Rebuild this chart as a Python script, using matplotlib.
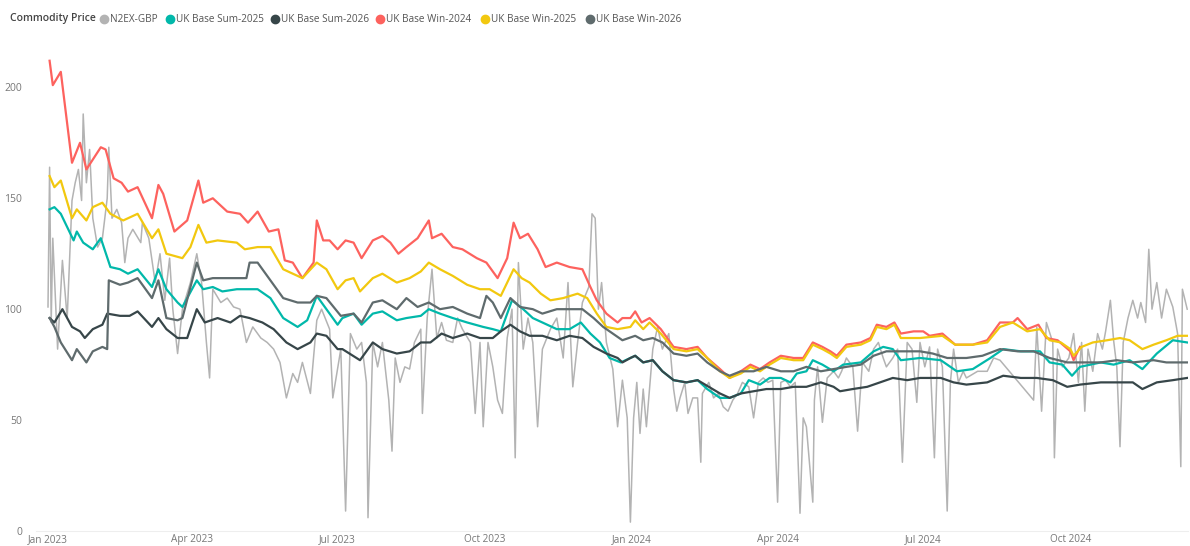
import matplotlib
matplotlib.use('Agg')
import matplotlib.pyplot as plt
import matplotlib.dates as mdates
import pandas as pd

plt.rcParams['font.family'] = ['Open Sans', 'DejaVu Sans']

start = pd.Timestamp('2023-01-01')

# day offsets from 1 Jan 2023 and prices (GBP/MWh)
n2ex_day = [0, 1, 2, 3, 6, 9, 12, 15, 17, 19, 21, 22, 24, 26, 28, 31, 34, 37, 38, 40,
            43, 46, 48, 50, 53, 58, 59, 63, 67, 70, 73, 76, 78, 81, 84, 89, 93, 96, 99, 101,
            103, 108, 112, 116, 120, 124, 128, 133, 137, 141, 145, 149, 153, 156, 159, 164, 168, 171, 176, 178,
            183, 186, 189, 193, 196, 199, 200, 203, 206, 209, 213, 215, 217, 220, 223, 226, 229, 233, 234, 237,
            240, 243, 246, 249, 253, 256, 259, 264, 267, 270, 272, 275, 278, 281, 284, 287, 290, 292, 294, 297,
            300, 303, 306, 309, 314, 318, 322, 325, 328, 331, 334, 338, 340, 342, 344, 346, 349, 353, 356, 359,
            362, 364, 366, 368, 370, 372, 374, 378, 381, 383, 384, 388, 391, 393, 395, 398, 400, 403, 406, 408,
            409, 413, 416, 419, 422, 425, 428, 431, 434, 438, 441, 444, 447, 450, 453, 456, 458, 461, 464, 467,
            470, 472, 474, 478, 479, 481, 484, 487, 491, 494, 496, 499, 503, 506, 509, 513, 516, 519, 522, 524,
            528, 531, 534, 537, 540, 543, 545, 548, 551, 554, 556, 559, 562, 564, 566, 569, 572, 574, 581, 587,
            591, 595, 616, 618, 621, 624, 628, 629, 631, 634, 638, 641, 644, 646, 648, 650, 653, 656, 659, 661,
            664, 666, 668, 670, 672, 675, 678, 681, 683, 686, 688, 690, 693, 696, 699, 703, 706, 708, 709, 712]
n2ex_val = [101, 164, 94, 132, 82, 122, 96, 149, 157, 163, 149, 188, 157, 172, 141, 128, 132, 150, 173, 141,
            145, 139, 121, 132, 136, 130, 139, 132, 112, 125, 104, 123, 100, 80, 100, 112, 125, 112, 85, 69,
            109, 103, 105, 101, 100, 85, 92, 87, 85, 82, 76, 60, 71, 67, 76, 62, 95, 100, 91, 60,
            82, 9, 89, 82, 85, 67, 6, 85, 74, 85, 59, 36, 78, 67, 74, 73, 85, 91, 53, 96,
            118, 87, 94, 86, 85, 96, 91, 85, 53, 85, 47, 85, 74, 59, 53, 87, 100, 33, 121, 82,
            96, 85, 47, 82, 91, 96, 78, 112, 65, 85, 103, 110, 143, 141, 100, 112, 85, 73, 47, 68,
            51, 4, 51, 67, 44, 64, 47, 82, 92, 85, 82, 89, 64, 54, 60, 67, 53, 60, 60, 31,
            62, 67, 60, 62, 56, 54, 59, 62, 67, 65, 51, 67, 69, 67, 68, 13, 67, 68, 65, 67,
            8, 51, 47, 13, 59, 74, 49, 69, 72, 69, 72, 78, 74, 45, 76, 72, 82, 85, 78, 74,
            78, 82, 31, 85, 82, 58, 85, 74, 83, 33, 82, 74, 9, 67, 82, 67, 72, 69, 72, 72,
            78, 77, 59, 92, 54, 94, 85, 33, 82, 74, 78, 89, 67, 85, 54, 82, 72, 89, 82, 90,
            104, 86, 74, 38, 85, 96, 104, 96, 103, 94, 127, 100, 112, 96, 109, 101, 89, 29, 109, 100]

sum25_day = [1, 4, 8, 12, 16, 18, 22, 28, 33, 39, 45, 50, 56, 65, 69, 74, 81, 84, 93, 97,
             103, 109, 118, 124, 131, 139, 147, 156, 162, 168, 174, 181, 184, 191, 196, 203, 209, 218, 224, 233,
             238, 245, 253, 262, 272, 278, 283, 287, 290, 297, 303, 309, 318, 326, 333, 339, 345, 351, 358, 364,
             367, 372, 378, 384, 391, 399, 406, 412, 420, 426, 433, 438, 445, 451, 458, 464, 468, 474, 478, 484,
             491, 497, 508, 516, 522, 528, 533, 545, 558, 568, 578, 589, 597, 608, 620, 626, 634, 640, 645, 658,
             666, 676, 684, 693, 703, 712]
sum25_val = [145, 146, 143, 137, 131, 135, 130, 127, 132, 119, 118, 116, 118, 110, 118, 109, 103, 101, 113, 109,
             110, 108, 109, 109, 109, 105, 96, 92, 95, 106, 100, 93, 96, 98, 93, 98, 99, 95, 96, 97,
             100, 98, 96, 94, 92, 91, 90, 98, 104, 100, 96, 94, 91, 91, 94, 89, 85, 78, 76, 78,
             79, 76, 77, 72, 68, 67, 68, 64, 60, 60, 62, 68, 66, 69, 69, 67, 71, 72, 77, 75,
             72, 75, 76, 81, 83, 82, 77, 78, 77, 72, 73, 78, 82, 81, 81, 76, 75, 70, 74, 76,
             75, 77, 73, 80, 86, 85]

sum26_day = [1, 4, 9, 15, 20, 23, 28, 34, 37, 45, 51, 56, 65, 69, 74, 81, 87, 93, 98, 106,
             114, 120, 126, 134, 141, 149, 156, 164, 168, 174, 181, 184, 195, 203, 209, 218, 226, 233, 239, 246,
             253, 262, 270, 278, 283, 289, 295, 301, 309, 318, 326, 334, 341, 349, 356, 359, 364, 367, 372, 378,
             384, 391, 399, 406, 413, 420, 426, 433, 441, 449, 458, 466, 474, 483, 491, 495, 503, 512, 520, 528,
             537, 545, 558, 566, 574, 587, 597, 608, 618, 628, 637, 645, 658, 668, 678, 684, 693, 703, 712]
sum26_val = [96, 94, 100, 92, 90, 87, 91, 93, 98, 97, 97, 99, 92, 96, 91, 87, 87, 100, 94, 96,
             94, 97, 96, 94, 91, 85, 82, 85, 89, 88, 82, 82, 77, 85, 82, 80, 81, 85, 85, 89,
             87, 89, 87, 87, 90, 93, 90, 88, 88, 86, 88, 87, 83, 80, 78, 76, 78, 79, 76, 77,
             72, 68, 67, 68, 65, 62, 60, 62, 63, 64, 64, 65, 65, 67, 65, 63, 64, 65, 67, 69,
             68, 69, 69, 67, 66, 67, 70, 69, 69, 68, 65, 66, 67, 67, 67, 64, 67, 68, 69]

win24_day = [1, 3, 8, 15, 20, 24, 33, 36, 41, 46, 50, 56, 65, 69, 72, 79, 87, 94, 97, 103,
             112, 120, 125, 131, 138, 144, 148, 153, 159, 166, 168, 172, 176, 181, 186, 191, 196, 203, 209, 214,
             219, 224, 231, 238, 240, 246, 253, 259, 268, 274, 281, 287, 291, 295, 300, 306, 311, 318, 326, 334,
             339, 343, 349, 356, 359, 364, 367, 371, 376, 383, 391, 399, 406, 412, 420, 426, 433, 439, 445, 451,
             458, 466, 472, 478, 484, 489, 493, 499, 508, 514, 518, 524, 529, 533, 541, 547, 551, 559, 567, 578,
             587, 595, 603, 606, 612, 619, 624, 631, 639, 641, 645]
win24_val = [212, 201, 207, 166, 175, 163, 173, 172, 159, 157, 153, 155, 141, 156, 152, 135, 140, 158, 148, 150,
             144, 143, 139, 144, 135, 136, 122, 121, 114, 121, 140, 131, 131, 127, 131, 130, 123, 131, 133, 130,
             125, 128, 132, 140, 132, 134, 128, 127, 123, 121, 114, 123, 139, 132, 134, 127, 119, 121, 119, 118,
             110, 104, 98, 94, 96, 96, 99, 94, 96, 91, 83, 82, 83, 78, 73, 69, 72, 75, 73, 76,
             79, 78, 78, 85, 83, 81, 79, 84, 85, 87, 93, 92, 94, 89, 90, 90, 88, 89, 84, 84,
             86, 94, 94, 96, 91, 93, 87, 86, 81, 77, 83]

win25_day = [1, 4, 8, 15, 18, 24, 28, 34, 39, 47, 56, 65, 69, 74, 84, 89, 94, 99, 106, 118,
             123, 131, 139, 147, 153, 159, 168, 174, 181, 186, 191, 195, 203, 209, 218, 226, 233, 238, 245, 253,
             262, 270, 276, 283, 287, 291, 296, 301, 308, 314, 322, 331, 337, 343, 349, 356, 364, 367, 372, 376,
             383, 391, 399, 406, 412, 420, 426, 433, 439, 445, 451, 458, 466, 472, 478, 484, 489, 493, 499, 508,
             514, 518, 524, 529, 533, 545, 559, 567, 578, 587, 595, 603, 612, 620, 626, 633, 639, 641, 646, 653,
             662, 670, 676, 684, 691, 699, 706, 712]
win25_val = [160, 155, 158, 141, 145, 140, 146, 148, 143, 140, 143, 132, 136, 125, 123, 128, 138, 130, 131, 130,
             127, 128, 128, 118, 116, 114, 121, 118, 109, 113, 114, 108, 114, 116, 112, 114, 117, 121, 118, 115,
             111, 109, 109, 106, 112, 118, 114, 112, 107, 104, 105, 107, 105, 98, 92, 91, 92, 95, 91, 94,
             89, 82, 81, 82, 78, 72, 69, 71, 74, 72, 75, 78, 77, 77, 84, 82, 80, 78, 83, 84,
             86, 92, 91, 93, 87, 87, 88, 84, 84, 85, 92, 94, 90, 91, 86, 85, 82, 79, 83, 85,
             86, 87, 86, 82, 84, 86, 88, 88]

win26_day = [1, 4, 8, 15, 18, 24, 28, 34, 37, 38, 45, 50, 56, 65, 69, 74, 81, 84, 93, 97,
             103, 109, 118, 124, 126, 131, 139, 147, 156, 164, 168, 174, 183, 191, 196, 203, 209, 218, 224, 231,
             238, 245, 253, 262, 270, 274, 278, 283, 289, 295, 303, 309, 318, 326, 334, 341, 347, 353, 359, 367,
             372, 378, 384, 391, 399, 406, 412, 420, 426, 433, 441, 449, 458, 466, 474, 483, 491, 499, 508, 516,
             524, 533, 545, 553, 562, 574, 584, 595, 606, 616, 626, 637, 645, 658, 668, 678, 691, 699, 712]
win26_val = [96, 92, 85, 77, 82, 76, 81, 83, 82, 113, 111, 112, 114, 105, 113, 96, 95, 96, 121, 113,
             114, 114, 114, 114, 121, 121, 113, 105, 103, 103, 106, 105, 97, 98, 94, 103, 104, 100, 105, 101,
             103, 100, 101, 98, 96, 106, 103, 96, 105, 101, 100, 98, 100, 100, 100, 96, 92, 89, 86, 88,
             86, 87, 85, 80, 79, 80, 76, 72, 70, 72, 72, 74, 72, 72, 74, 72, 73, 74, 75, 79,
             81, 81, 81, 80, 78, 78, 79, 82, 81, 81, 78, 76, 76, 76, 77, 76, 77, 76, 76]

series = [
    ('N2EX-GBP', n2ex_day, n2ex_val, '#B3B3B3', 1.1),
    ('UK Base Sum-2025', sum25_day, sum25_val, '#01B8AA', 1.6),
    ('UK Base Sum-2026', sum26_day, sum26_val, '#374649', 1.6),
    ('UK Base Win-2024', win24_day, win24_val, '#FD625E', 1.6),
    ('UK Base Win-2025', win25_day, win25_val, '#F2C80F', 1.6),
    ('UK Base Win-2026', win26_day, win26_val, '#5F6B6D', 1.6),
]

W, H = 1190, 546
fig = plt.figure(figsize=(W / 100, H / 100), dpi=100)
# axes box in pixels: left 36, right 1188, top 43, bottom 531
ax = fig.add_axes([36 / W, (H - 531) / H, (1188 - 36) / W, (531 - 43) / H])

for name, days, vals, col, lw in series:
    dates = start + pd.to_timedelta(days, unit='D')
    ax.plot(dates, vals, color=col, lw=lw, label=name, solid_joinstyle='round')

ax.set_xlim(start - pd.Timedelta(days=7.5), start + pd.Timedelta(days=712.5))
ax.set_ylim(0, 220)
ax.set_yticks([0, 50, 100, 150, 200])
ax.xaxis.set_major_locator(mdates.MonthLocator(bymonth=[1, 4, 7, 10]))
ax.xaxis.set_major_formatter(mdates.DateFormatter('%b %Y'))

for s in ['top', 'right', 'left']:
    ax.spines[s].set_visible(False)
ax.spines['bottom'].set_color('#eeeeee')
ax.tick_params(axis='both', length=0, labelsize=7.5, labelcolor='#777777')
ax.tick_params(axis='x', labelsize=7.2, pad=2)
ax.tick_params(axis='y', pad=10)
ax.grid(False)

# legend across the top, Power BI style
fig.text(10 / W, 1 - 19 / H, 'Commodity Price', fontsize=7.5, color='#444444',
         fontweight='semibold', va='center')
leg_x = [104, 170, 275, 380, 485, 590]
for (name, days, vals, col, lw), px in zip(series, leg_x):
    fig.add_artist(plt.Line2D([px / W], [1 - 19 / H], marker='o', ms=6, color=col,
                              transform=fig.transFigure))
    fig.text((px + 6) / W, 1 - 19 / H, name, fontsize=7.2, color='#555555', va='center')

fig.savefig('out.png', dpi=100)
